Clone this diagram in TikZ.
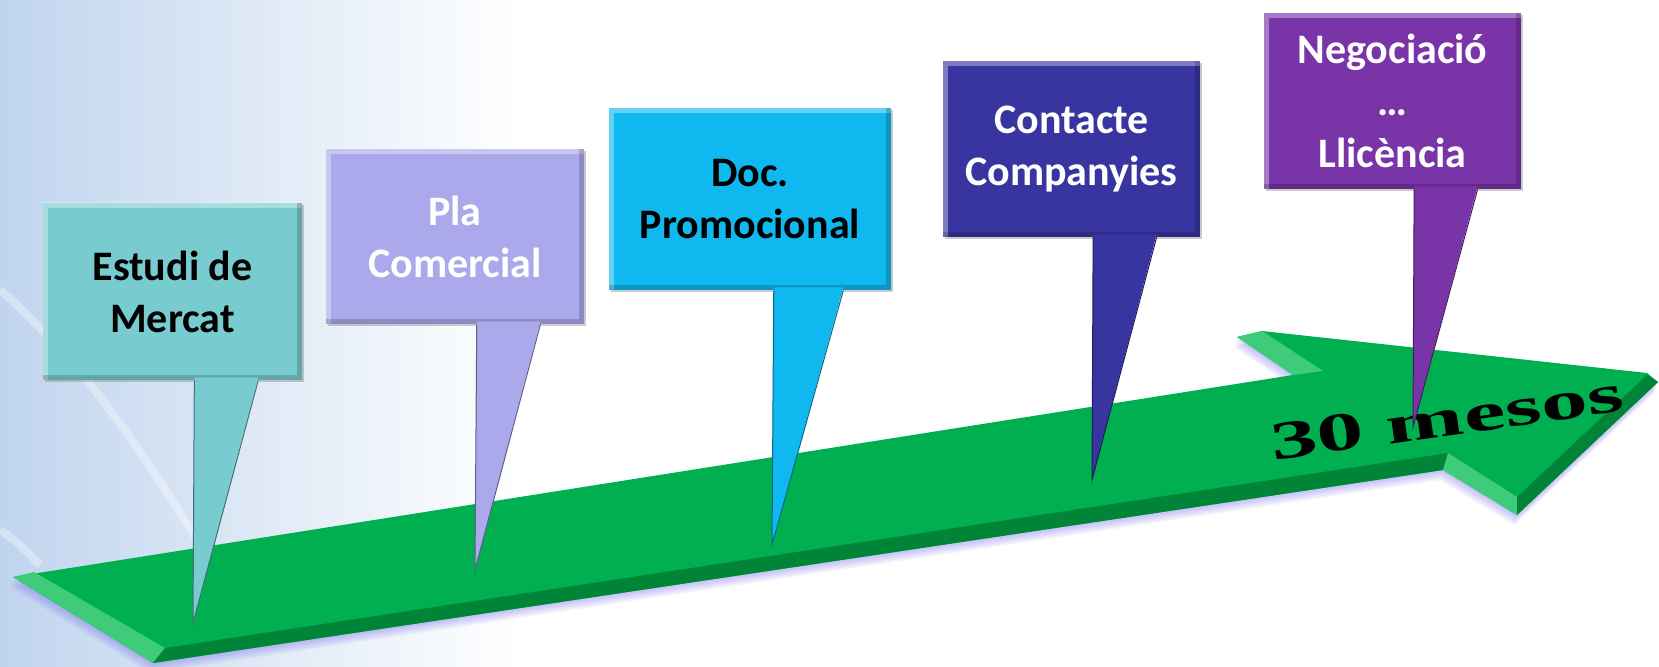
\documentclass[tikz,border=0pt]{standalone}
\usepackage{fontspec}
\setmainfont{Carlito}
\newfontfamily\wordart{Liberation Serif}
\usetikzlibrary{calc, positioning, shadows}
\tikzset{>=latex}

\definecolor{bgblue}{RGB}{192,212,238}
\definecolor{arrowgreen}{RGB}{0,176,80}
\definecolor{arrowlight}{RGB}{62,204,122}
\definecolor{arrowdark}{RGB}{0,132,56}
\definecolor{arrowglow}{RGB}{110,100,235}
\definecolor{boxteal}{RGB}{120,203,207}
\definecolor{boxlilac}{RGB}{171,169,236}
\definecolor{boxcyan}{RGB}{15,185,240}
\definecolor{boxnavy}{RGB}{57,53,160}
\definecolor{boxpurple}{RGB}{121,52,168}

\newcommand{\arrowoutline}{(13,577) -- (1293,375) -- (1237,337) -- (1262,331) -- (1647,373) -- (1658,382) -- (1517,515) -- (1443,470) -- (153,663) -- cycle}

\begin{document}
\begin{tikzpicture}[x=0.5pt, y=-0.5pt,
    bevelled/.style = {path picture={
        \draw[white, opacity=.35, line width=5pt] (path picture bounding box.south west) -- (path picture bounding box.north west) -- (path picture bounding box.north east);
        \draw[black, opacity=.18, line width=5pt] (path picture bounding box.north east) -- (path picture bounding box.south east) -- (path picture bounding box.south west);}},
    milestone/.style = {rectangle, inner sep=0pt, align=center, font=\bfseries\fontsize{21}{26}\selectfont, drop shadow={shadow xshift=1.2pt, shadow yshift=-1.2pt, opacity=.4}, bevelled},
    spike/.style = {line width=.5pt}]
  \useasboundingbox (0,0) rectangle (1659,667);
  % background
  \fill[white] (0,0) rectangle (1659,667);
  \shade[left color=bgblue, right color=white] (0,0) rectangle (520,667);
  \draw[white, opacity=.35, line width=4pt] (0,290) .. controls (70,350) and (130,430) .. (200,545);
  \draw[white, opacity=.35, line width=4pt] (0,530) .. controls (15,540) .. (40,565);

  % timeline arrow
  \foreach \s in {1,...,6}
    \fill[arrowglow, opacity=.07, shift={(-\s*0.5,\s*1.7)}] \arrowoutline;
  \fill[arrowgreen] \arrowoutline;
  \fill[arrowlight] (13,577) -- (34,572) -- (165,648) -- (153,663) -- cycle;
  \fill[arrowdark] (165,648) -- (1448,453) -- (1443,470) -- (153,663) -- cycle;
  \fill[arrowlight] (1448,453) -- (1517,497) -- (1517,515) -- (1443,470) -- cycle;
  \fill[arrowdark] (1517,497) -- (1647,375) -- (1658,382) -- (1517,515) -- cycle;
  \fill[arrowlight] (1293,375) -- (1237,337) -- (1262,331) -- (1323,371) -- cycle;
  \node[rotate=8, xscale=1.04, yscale=.6, inner sep=0pt, font=\wordart\bfseries\fontsize{45}{45}\selectfont] (duration) at (1447,418) {30 mesos};

  % nodes
  \node[milestone, fill=boxteal, text=black, minimum width=129.5pt, minimum height=88.5pt] (market) at (172.5,291.5) {Estudi de\\Mercat};
  \node[milestone, fill=boxlilac, text=white, minimum width=129pt, minimum height=87.5pt] (plan) at (455,236.5) {Pla\\Comercial};
  \node[milestone, fill=boxcyan, text=black, minimum width=141pt, minimum height=91pt] (doc) at (750,199) {Doc.\\Promocional};
  \node[milestone, fill=boxnavy, text=white, minimum width=128.5pt, minimum height=88pt] (contact) at (1071.5,149) {Contacte\\Companyies};
  \node[milestone, fill=boxpurple, text=white, minimum width=128.5pt, minimum height=88pt] (licence) at (1392.5,101) {Negociació\\…\\Llicència};

  \coordinate (market_tip) at (193,623);
  \coordinate (plan_tip) at (475,570);
  \coordinate (doc_tip) at (772,545);
  \coordinate (contact_tip) at (1092,480);
  \coordinate (licence_tip) at (1413,427);

  % connections
  \foreach \m/\c in {market/boxteal, plan/boxlilac, doc/boxcyan, contact/boxnavy, licence/boxpurple} {
    \fill[\c] ($(\m.south west)!.584!(\m.south east)+(0,-3)$) -- (\m_tip) -- ($(\m.south west)!.83!(\m.south east)+(0,-3)$) -- cycle;
    \draw[spike, \c!55!black] ($(\m.south west)!.584!(\m.south east)$) -- (\m_tip) -- ($(\m.south west)!.83!(\m.south east)$);
  }
\end{tikzpicture}
\end{document}
